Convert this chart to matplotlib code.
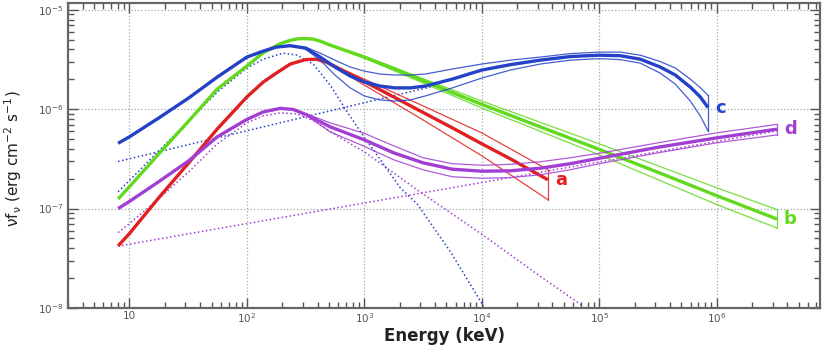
import numpy as np
import matplotlib.pyplot as plt
from matplotlib.ticker import FixedLocator, LogLocator, FuncFormatter, NullFormatter

# energies in keV, fluxes nuFnu in erg cm^-2 s^-1

# spectrum a (red)
a_E = [8, 10, 17.8, 32, 56, 100, 138, 178, 234, 316, 389, 474, 623, 1000,
       1778, 3162, 5623, 1e4, 1.75e4, 3.66e4]
a_F = [4.21e-8, 5.61e-8, 1.29e-7, 2.89e-7, 6.34e-7, 1.33e-6, 1.88e-6, 2.31e-6,
       2.85e-6, 3.16e-6, 3.19e-6, 2.98e-6, 2.54e-6, 1.90e-6, 1.33e-6, 9.29e-7,
       6.49e-7, 4.49e-7, 3.17e-7, 1.95e-7]
a_band_E = [474, 1000, 3162, 1e4, 3.66e4]
a_hi = [2.98e-6, 2.01e-6, 1.08e-6, 5.78e-7, 2.46e-7]
a_lo = [2.98e-6, 1.75e-6, 7.81e-7, 3.40e-7, 1.23e-7]

# spectrum b (green)
b_E = [8, 10, 17.8, 32, 56, 100, 138, 192, 232, 268, 300, 367, 420, 512, 1000,
       1778, 3162, 5623, 1e4, 3.15e4, 1e5, 3.16e5, 1e6, 3.27e6]
b_F = [1.25e-7, 1.66e-7, 3.56e-7, 7.63e-7, 1.60e-6, 2.72e-6, 3.71e-6, 4.57e-6,
       4.92e-6, 5.10e-6, 5.15e-6, 5.08e-6, 4.85e-6, 4.42e-6, 3.35e-6, 2.57e-6,
       1.94e-6, 1.47e-6, 1.12e-6, 6.65e-7, 3.95e-7, 2.32e-7, 1.35e-7, 7.85e-8]
b_band_E = [512, 1000, 1e4, 1e5, 1e6, 3.27e6]
b_hi = [4.42e-6, 3.42e-6, 1.21e-6, 4.49e-7, 1.62e-7, 9.77e-8]
b_lo = [4.42e-6, 3.27e-6, 1.03e-6, 3.48e-7, 1.10e-7, 6.37e-8]

# spectrum c (blue)
c_E = [8, 10, 17.8, 32, 56, 100, 138, 178, 234, 316, 421, 562, 758, 1000,
       1366, 1833, 2460, 3302, 5623, 1e4, 1.75e4, 3.15e4, 5.67e4, 1e5, 1.51e5,
       2.24e5, 3.31e5, 4.45e5, 5.97e5, 7.26e5, 8.45e5]
c_F = [4.54e-7, 5.28e-7, 8.18e-7, 1.30e-6, 2.11e-6, 3.35e-6, 3.85e-6, 4.22e-6,
       4.36e-6, 4.12e-6, 3.35e-6, 2.66e-6, 2.16e-6, 1.88e-6, 1.71e-6, 1.64e-6,
       1.64e-6, 1.71e-6, 2.01e-6, 2.48e-6, 2.81e-6, 3.12e-6, 3.39e-6, 3.50e-6,
       3.46e-6, 3.19e-6, 2.66e-6, 2.21e-6, 1.67e-6, 1.33e-6, 1.04e-6]
c_band_E = [316, 421, 562, 758, 1000, 1366, 1833, 2460, 3302, 5623, 1e4,
            1.75e4, 3.15e4, 5.67e4, 1e5, 1.51e5, 2.24e5, 3.31e5, 4.45e5,
            5.97e5, 7.26e5, 8.45e5]
c_hi = [4.22e-6, 3.67e-6, 3.12e-6, 2.66e-6, 2.42e-6, 2.26e-6, 2.21e-6, 2.21e-6,
        2.26e-6, 2.54e-6, 2.85e-6, 3.12e-6, 3.35e-6, 3.63e-6, 3.76e-6, 3.76e-6,
        3.50e-6, 3.02e-6, 2.60e-6, 2.01e-6, 1.65e-6, 1.38e-6]
c_lo = [4.03e-6, 3.12e-6, 2.21e-6, 1.64e-6, 1.36e-6, 1.24e-6, 1.21e-6, 1.24e-6,
        1.36e-6, 1.64e-6, 2.06e-6, 2.48e-6, 2.85e-6, 3.12e-6, 3.23e-6, 3.16e-6,
        2.91e-6, 2.31e-6, 1.79e-6, 1.21e-6, 8.57e-7, 6.06e-7]
# components of c
c1_E = [8, 10, 17.8, 32, 56, 100, 138, 204, 268, 367, 512, 715, 1000, 1280,
        2022, 2806, 5393, 1.036e4]
c1_F = [1.48e-7, 1.92e-7, 3.82e-7, 7.63e-7, 1.49e-6, 2.60e-6, 3.19e-6, 3.67e-6,
        3.50e-6, 2.85e-6, 1.75e-6, 9.40e-7, 5.21e-7, 3.48e-7, 1.62e-7, 1.12e-7,
        3.70e-8, 1.04e-8]
c2_E = [8, 4431]
c2_F = [2.98e-7, 1.77e-6]

# spectrum d (purple)
d_E = [8, 10, 17.8, 32, 56, 100, 138, 192, 248, 324, 512, 1000, 1778, 3162,
       5623, 1e4, 1.75e4, 3.15e4, 5.67e4, 1e5, 3.16e5, 1e6, 3.27e6]
d_F = [1.00e-7, 1.18e-7, 1.87e-7, 3.03e-7, 5.28e-7, 7.90e-7, 9.40e-7, 1.02e-6,
       9.95e-7, 8.77e-7, 6.65e-7, 4.92e-7, 3.64e-7, 2.89e-7, 2.49e-7, 2.38e-7,
       2.40e-7, 2.55e-7, 2.83e-7, 3.21e-7, 4.14e-7, 5.15e-7, 6.30e-7]
d_band_E = [324, 512, 1000, 1778, 3162, 5623, 1e4, 1.75e4, 3.15e4, 5.67e4,
            1e5, 3.16e5, 1e6, 3.27e6]
d_hi = [8.97e-7, 7.29e-7, 5.72e-7, 4.28e-7, 3.25e-7, 2.83e-7, 2.73e-7, 2.79e-7,
        2.96e-7, 3.25e-7, 3.60e-7, 4.59e-7, 5.78e-7, 7.04e-7]
d_lo = [8.57e-7, 5.92e-7, 4.23e-7, 3.10e-7, 2.46e-7, 2.09e-7, 2.02e-7, 2.05e-7,
        2.19e-7, 2.46e-7, 2.83e-7, 3.64e-7, 4.59e-7, 5.52e-7]
# components of d
d1_E = [8, 10, 17.8, 32, 56, 100, 138, 192, 268, 389, 584, 1000, 2806,
        1.036e4, 3.15e4, 7.32e4]
d1_F = [5.74e-8, 7.07e-8, 1.26e-7, 2.35e-7, 4.49e-7, 7.29e-7, 8.57e-7, 9.18e-7,
        8.97e-7, 7.46e-7, 5.40e-7, 3.73e-7, 1.55e-7, 5.36e-8, 2.08e-8, 1.04e-8]
d2_E = [8, 3.27e6]
d2_F = [4.19e-8, 6.06e-7]

x_ticks = [10, 1e2, 1e3, 1e4, 1e5, 1e6]
y_ticks = [1e-8, 1e-7, 1e-6, 1e-5]

RED = '#e02020'
GREEN = '#62d81e'
BLUE = '#2442c8'
PURPLE = '#a23fd2'

fig = plt.figure(figsize=(8.3, 3.46), dpi=100)
ax = fig.add_axes([0.082, 0.11, 0.906, 0.881])
ax.set_xscale('log')
ax.set_yscale('log')

# dotted model components
ax.plot(c1_E, c1_F, ':', color=BLUE, lw=1.1)
ax.plot(c2_E, c2_F, ':', color=BLUE, lw=1.1)
ax.plot(d1_E, d1_F, ':', color=PURPLE, lw=1.1)
ax.plot(d2_E, d2_F, ':', color=PURPLE, lw=1.1)

spectra = [
    ('a', RED, a_E, a_F, a_band_E, a_hi, a_lo),
    ('b', GREEN, b_E, b_F, b_band_E, b_hi, b_lo),
    ('c', BLUE, c_E, c_F, c_band_E, c_hi, c_lo),
    ('d', PURPLE, d_E, d_F, d_band_E, d_hi, d_lo),
]
for name, col, E, F, bE, hi, lo in spectra:
    ax.plot(bE, hi, color=col, lw=0.9, alpha=0.85)
    ax.plot(bE, lo, color=col, lw=0.9, alpha=0.85)
    ax.plot([bE[-1], bE[-1]], [hi[-1], lo[-1]], color=col, lw=0.9, alpha=0.85)
    ax.plot(E, F, color=col, lw=2.4, solid_capstyle='butt', solid_joinstyle='round')
    ax.annotate(name, xy=(E[-1], F[-1]), xytext=(5, 0), textcoords='offset points',
                ha='left', va='center', color=col, fontsize=13, fontweight='bold')

ax.set_xlim(3.0, 7.6e6)
ax.set_ylim(1e-8, 1.17e-5)

def fmt(v, pos):
    e = int(round(np.log10(v)))
    if e == 1:
        return '10'
    return r'$\mathregular{10^{%d}}$' % e

ax.xaxis.set_major_locator(FixedLocator(x_ticks))
ax.yaxis.set_major_locator(FixedLocator(y_ticks))
for axis in (ax.xaxis, ax.yaxis):
    axis.set_minor_locator(LogLocator(base=10, subs=np.arange(2, 10), numticks=20))
    axis.set_major_formatter(FuncFormatter(fmt))
    axis.set_minor_formatter(NullFormatter())

ax.tick_params(which='both', direction='in', top=True, right=True,
               colors='#555555', labelsize=7.5, width=1.0)
ax.tick_params(which='major', length=7)
ax.tick_params(which='minor', length=4)
ax.tick_params(axis='x', pad=2)
ax.grid(True, which='major', ls=':', color='#a0aaa8', lw=0.9)
for s in ax.spines.values():
    s.set_color('#666666')
    s.set_linewidth(1.6)

ax.set_xlabel('Energy (keV)', fontsize=12, fontweight='bold', color='#222222')
ax.xaxis.set_label_coords(0.5, -0.062)
ax.set_ylabel(r'$\mathregular{\nu f_\nu}$ (erg cm$\mathregular{^{-2}}$ s$\mathregular{^{-1}}$)',
              fontsize=11, color='#222222')
ax.yaxis.set_label_coords(-0.058, 0.49)

fig.savefig('out.png', dpi=100)
